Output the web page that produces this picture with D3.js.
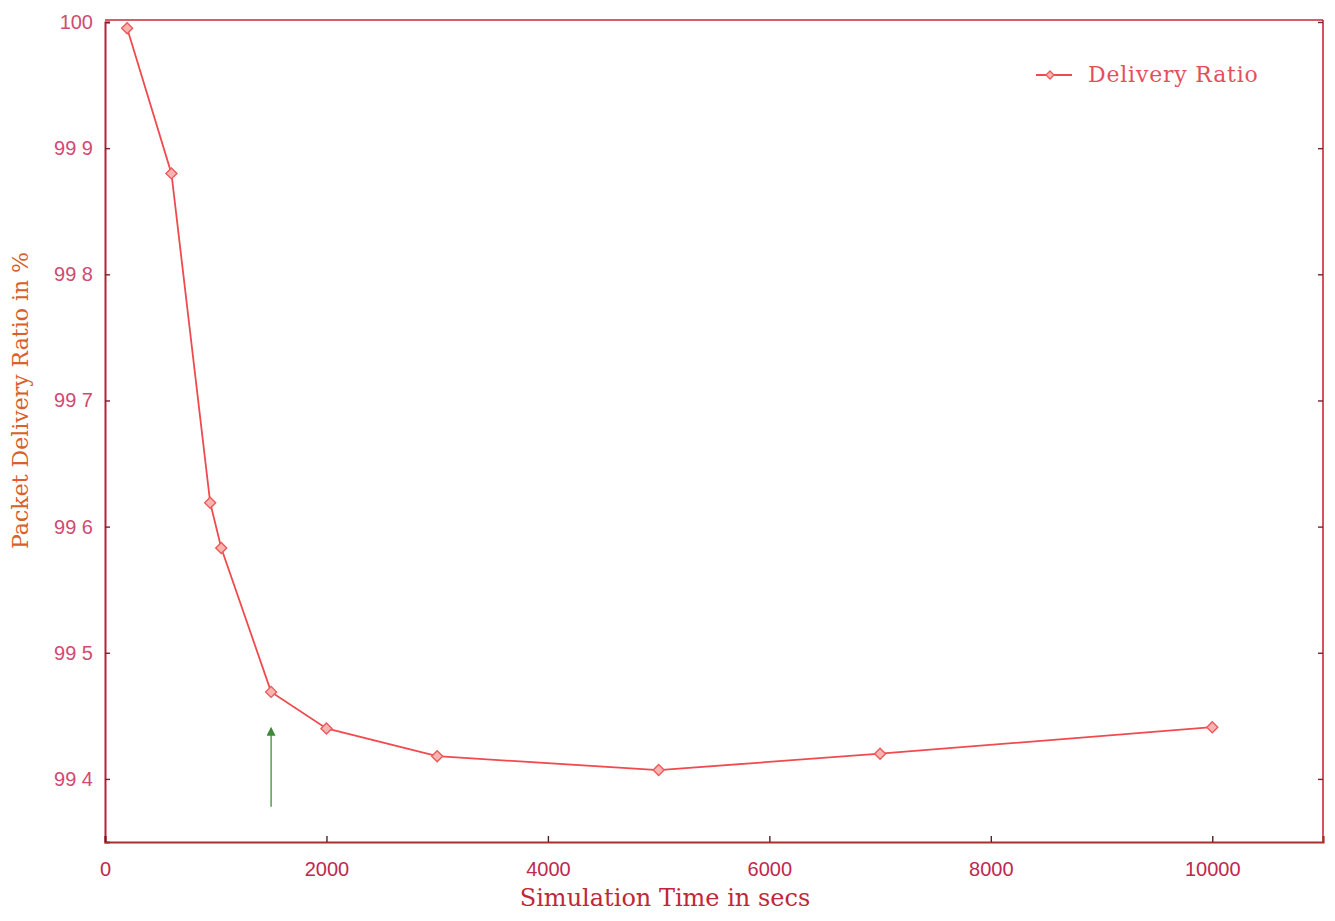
<!DOCTYPE html>
<html>
<head>
<meta charset="utf-8">
<script src="https://cdn.jsdelivr.net/npm/d3@7"></script>
<style>
  html, body { margin: 0; padding: 0; background: #ffffff; }
  svg { display: block; }
</style>
</head>
<body>
<svg id="chart" width="1335" height="921"></svg>
<script>
// Simulation time (s) and packet delivery ratio (%)
const simTime = [200, 600, 950, 1050, 1500, 2000, 3000, 5000, 7000, 10000];
const deliveryRatio = [99.995, 99.880, 99.619, 99.583, 99.469, 99.440, 99.418, 99.407, 99.420, 99.441];

const xTickValues = [0, 2000, 4000, 6000, 8000, 10000];
const xTickLabels = ["0", "2000", "4000", "6000", "8000", "10000"];
const yTickValues = [99.4, 99.5, 99.6, 99.7, 99.8, 99.9, 100];
const yTickLabels = ["99 4", "99 5", "99 6", "99 7", "99 8", "99 9", "100"];

// Marker for the highlighted run
const arrowX = [1500];
const arrowFrom = [99.378];
const arrowTo = [99.440];

const seriesName = "Delivery Ratio";
const xTitle = "Simulation Time in secs";
const yTitle = "Packet Delivery Ratio in %";

const svg = d3.select("#chart");
const margin = { left: 105, top: 22, right: 12, bottom: 79 };
const W = 1335, H = 921;
const innerW = W - margin.left - margin.right;
const innerH = H - margin.top - margin.bottom;

const x = d3.scaleLinear().domain([0, 11000]).range([margin.left, margin.left + innerW]);
const y = d3.scaleLinear().domain([99.35, 100]).range([margin.top + innerH, margin.top]);

const axisColor = "#c8283a";
const lineColor = "#f04a4f";

const defs = svg.append("defs");
defs.append("marker")
  .attr("id", "greenHead")
  .attr("viewBox", "0 0 10 10")
  .attr("refX", 8).attr("refY", 5)
  .attr("markerWidth", 11).attr("markerHeight", 9)
  .attr("markerUnits", "userSpaceOnUse")
  .attr("orient", "auto")
  .append("path")
  .attr("d", "M0,0 L10,5 L0,10 Z")
  .attr("fill", "#3f8a3a");

// frame
const frame = svg.append("g");
frame.append("line")
  .attr("x1", x(0)).attr("x2", x(11000))
  .attr("y1", y(100) - 2).attr("y2", y(100) - 2)
  .attr("stroke", axisColor).attr("stroke-width", 1.6);
frame.append("line")
  .attr("x1", x(11000)).attr("x2", x(11000))
  .attr("y1", y(100) - 2).attr("y2", y(99.35))
  .attr("stroke", axisColor).attr("stroke-width", 1.6);

// left axis
const yAxis = d3.axisLeft(y)
  .tickValues(yTickValues)
  .tickSize(-5)
  .tickPadding(12)
  .tickFormat((d, i) => yTickLabels[i]);
const gy = svg.append("g")
  .attr("transform", `translate(${x(0)},0)`)
  .call(yAxis);
gy.select(".domain").attr("stroke", "#b8203a").attr("stroke-width", 2);
gy.selectAll(".tick line").attr("stroke", "#7a2030").attr("stroke-width", 1.4);
gy.selectAll(".tick text")
  .attr("fill", "#d04a72")
  .attr("font-family", "Liberation Sans, Arial, sans-serif")
  .attr("font-size", 20);

// right-side ticks
const yAxisR = d3.axisRight(y).tickValues(yTickValues).tickSize(-5).tickFormat("");
const gyr = svg.append("g").attr("transform", `translate(${x(11000)},0)`).call(yAxisR);
gyr.select(".domain").remove();
gyr.selectAll(".tick line").attr("stroke", "#7a2030").attr("stroke-width", 1.4);

// bottom axis
const xAxis = d3.axisBottom(x)
  .tickValues(xTickValues)
  .tickSize(-6)
  .tickPadding(20)
  .tickFormat((d, i) => xTickLabels[i]);
const gx = svg.append("g")
  .attr("transform", `translate(0,${y(99.35)})`)
  .call(xAxis);
gx.select(".domain").attr("stroke", "#a8302a").attr("stroke-width", 2.2);
gx.selectAll(".tick line").attr("stroke", "#5a2020").attr("stroke-width", 1.4);
gx.selectAll(".tick text")
  .attr("fill", "#c0284e")
  .attr("font-family", "Liberation Sans, Arial, sans-serif")
  .attr("font-size", 20);

// axis titles
svg.append("text")
  .attr("x", 665)
  .attr("y", 906)
  .attr("text-anchor", "middle")
  .attr("fill", "#c02838")
  .attr("font-family", "DejaVu Serif, Liberation Serif, serif")
  .attr("font-size", 24)
  .text(xTitle);

svg.append("text")
  .attr("transform", `translate(28,${y(99.7)}) rotate(-90)`)
  .attr("text-anchor", "middle")
  .attr("fill", "#d8602c")
  .attr("font-family", "DejaVu Serif, Liberation Serif, serif")
  .attr("font-size", 22)
  .text(yTitle);

// data series
const pts = simTime.map((t, i) => [t, deliveryRatio[i]]);
svg.append("path")
  .datum(pts)
  .attr("fill", "none")
  .attr("stroke", lineColor)
  .attr("stroke-width", 1.8)
  .attr("d", d3.line().x(d => x(d[0])).y(d => y(d[1])));

// square diamond marker
const diamond = "M0,-5.5L5.5,0L0,5.5L-5.5,0Z";
svg.append("g").selectAll("path")
  .data(pts)
  .join("path")
  .attr("transform", d => `translate(${x(d[0])},${y(d[1])})`)
  .attr("d", diamond)
  .attr("fill", "#f8b4b0")
  .attr("stroke", "#ec5a5a")
  .attr("stroke-width", 1.4);

// green arrow
svg.append("g").selectAll("line")
  .data(arrowX)
  .join("line")
  .attr("x1", d => x(d)).attr("x2", d => x(d))
  .attr("y1", (d, i) => y(arrowFrom[i]))
  .attr("y2", (d, i) => y(arrowTo[i]))
  .attr("stroke", "#4a9a44")
  .attr("stroke-width", 1.4)
  .attr("marker-end", "url(#greenHead)");

// legend
const lg = svg.append("g").attr("transform", "translate(1036,75)");
lg.append("line").attr("x1", 0).attr("x2", 36).attr("y1", 0).attr("y2", 0)
  .attr("stroke", lineColor).attr("stroke-width", 1.8);
lg.append("path").attr("transform", "translate(14,0)").attr("d", "M0,-4L4,0L0,4L-4,0Z")
  .attr("fill", "#f8b4b0").attr("stroke", "#ec5a5a").attr("stroke-width", 1.3);
lg.append("text")
  .attr("x", 52).attr("y", 7)
  .attr("fill", "#e4505a")
  .attr("font-family", "DejaVu Serif, Liberation Serif, serif")
  .attr("font-size", 22)
  .attr("letter-spacing", 0.8)
  .text(seriesName);
</script>
</body>
</html>
